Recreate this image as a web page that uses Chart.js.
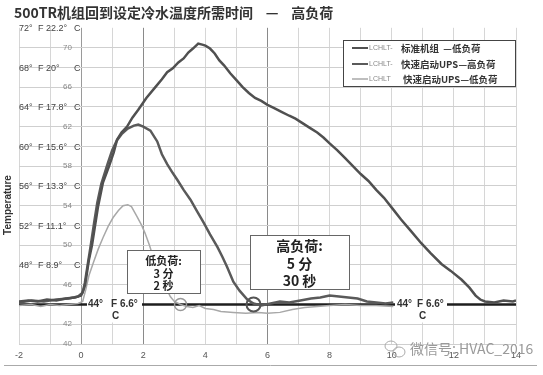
<!DOCTYPE html>
<html><head><meta charset="utf-8">
<script src="https://cdn.jsdelivr.net/npm/chart.js@4/dist/chart.umd.min.js"></script>
<style>html,body{margin:0;padding:0;background:#fff}#wrap{width:543px;height:375px}</style>
</head><body><div id="wrap"><canvas id="c" width="543" height="375"></canvas></div>
<script>
const titleText = '500TR机组回到设定冷水温度所需时间    —    高负荷';
const seriesLabels = ['标准机组  —低负荷', '快速启动UPS—高负荷', '快速启动UPS—低负荷'];
const seriesPrefix = ['LCHLT-', 'LCHLT-', 'LCHLT'];
const yAxisTitle = 'Temperature';

const timeA = [-2,-1.7,-1.4,-1.1,-0.8,-0.5,-0.2,0,0.08,0.13,0.25,0.35,0.45,0.55,0.7,0.9,1.05,1.16,1.3,1.48,1.65,1.84,2.1,2.39,2.6,2.77,2.95,3.13,3.3,3.45,3.6,3.77,3.9,4.0,4.15,4.3,4.45,4.6,4.8,5.0,5.2,5.4,5.6,5.8,6.0,6.2,6.45,6.7,6.9,7.1,7.35,7.6,7.8,8.0,8.25,8.5,8.75,9.0,9.25,9.5,9.75,10.0,10.3,10.6,10.95,11.25,11.6,11.9,12.25,12.5,12.7,12.85,13.0,13.3,13.6,13.9,14.0];
const tempA = [44.3,44.4,44.3,44.5,44.4,44.6,44.7,44.9,45.5,46.0,48.5,50.0,52.0,54.0,56.3,58.0,59.4,60.7,61.4,62.0,62.9,63.7,64.9,66.0,66.8,67.5,67.9,68.5,68.9,69.5,69.9,70.4,70.3,70.2,69.9,69.4,68.7,68.2,67.4,66.7,66.0,65.4,64.9,64.6,64.2,63.9,63.5,63.1,62.8,62.4,61.9,61.4,60.9,60.3,59.6,58.8,58.0,57.2,56.5,55.6,54.8,53.8,52.6,51.5,50.2,49.2,48.1,47.4,46.5,45.7,44.9,44.5,44.3,44.2,44.4,44.3,44.4];

const timeB = [-2,-1.6,-1.2,-0.8,-0.4,-0.1,0.05,0.12,0.22,0.32,0.42,0.52,0.65,0.85,1.0,1.15,1.32,1.5,1.7,1.84,2.0,2.23,2.45,2.6,2.77,2.95,3.1,3.3,3.52,3.72,3.94,4.15,4.39,4.55,4.7,4.9,5.1,5.35,5.55,5.8,6.1,6.4,6.7,7.06,7.4,7.7,8.0,8.3,8.6,8.9,9.2,9.5,9.8,10.05];
const tempB = [44.2,44.4,44.3,44.5,44.6,44.8,45.2,46.2,48.2,50.2,52.3,54.3,56.2,58.2,59.6,60.6,61.3,61.8,62.1,62.2,62.0,61.6,60.5,59.2,58.2,57.3,56.6,55.6,54.6,53.5,52.3,51.1,49.8,48.8,47.8,46.3,45.4,44.5,44.1,43.9,44.1,44.3,44.2,44.4,44.6,44.7,44.9,44.8,44.7,44.6,44.3,44.2,44.1,44.2];

const timeC = [-2,-1.6,-1.3,-1.0,-0.7,-0.4,-0.1,0.05,0.15,0.25,0.39,0.55,0.71,0.87,1.03,1.2,1.35,1.5,1.62,1.8,1.95,2.06,2.2,2.32,2.45,2.6,2.75,2.87,3.0,3.2,3.4,3.6,3.8,4.0,4.26,4.5,4.9,5.3,5.7,6.0,6.4,6.8,7.2,7.6,8.0,8.5,9.0,9.5,10.05];
const tempC = [43.9,44.0,43.8,44.0,43.9,44.0,44.1,44.3,45.5,46.9,48.2,49.6,50.8,51.9,52.8,53.5,54.0,54.1,53.9,52.9,52.0,51.2,50.0,48.8,47.7,46.6,45.6,44.8,44.3,44.0,43.8,43.7,43.9,43.6,43.5,43.3,43.2,43.1,43.2,43.1,43.2,43.5,43.7,43.8,43.9,44.0,43.9,43.9,43.8];

const setpointTime = [-2, 14];
const setpointTemp = [44, 44];
const markerTime = [3.2, 5.55];
const markerTemp = [44, 44];

const fLabelTemps = [72, 68, 64, 60, 56, 52, 48];
const fLabelDeg = ['72°', '68°', '64°', '60°', '56°', '52°', '48°'];
const fLabelF = ['F 22.2°', 'F 20°', 'F 17.8°', 'F 15.6°', 'F 13.3°', 'F 11.1°', 'F 8.9°'];
const numTickTemps = [70, 66, 62, 58, 54, 50, 46, 42, 40];
const setpointLabel = ['44°', 'F 6.6°', 'C'];
const lowBoxLines = ['低负荷:', '3 分', '2 秒'];
const highBoxLines = ['高负荷:', '5 分', '30 秒'];
const watermark = '微信号: HVAC_2016';

const zip = (xs, ys) => xs.map((x, i) => ({x, y: ys[i]}));
const CJK = '"Noto Sans CJK SC", sans-serif';
const LAT = '"Liberation Sans", Arial, sans-serif';
const seriesColors = ['#505050', '#5a5a5a', '#a8a8a8'];

const overlay = {
  id: 'overlay',
  afterDatasetsDraw(chart) {
    const ctx = chart.ctx, xs = chart.scales.x, ys = chart.scales.y;
    ctx.save();
    // setpoint labels with white background
    const drawSet = (x0, x1, xDeg, xF, xC) => {
      const y = ys.getPixelForValue(44);
      ctx.fillStyle = '#fff';
      ctx.fillRect(x0, y - 6, x1 - x0, 24);
      ctx.fillStyle = '#333';
      ctx.font = 'bold 10px ' + LAT;
      ctx.textBaseline = 'middle'; ctx.textAlign = 'left';
      ctx.fillText(setpointLabel[0], xDeg, y);
      ctx.fillText(setpointLabel[1], xF, y);
      ctx.fillText(setpointLabel[2], xC, y + 12);
    };
    drawSet(87, 142, 88, 111, 112);
    drawSet(395, 447, 397, 417, 419);
    // annotation boxes
    const box = (x, y, w, h, lines, size, ys0, gap) => {
      ctx.fillStyle = '#fff'; ctx.fillRect(x, y, w, h);
      ctx.strokeStyle = '#666'; ctx.lineWidth = 1;
      ctx.strokeRect(x + 0.5, y + 0.5, w, h);
      ctx.fillStyle = '#222'; ctx.font = 'bold ' + size + 'px ' + CJK;
      ctx.textAlign = 'center'; ctx.textBaseline = 'middle';
      lines.forEach((t, i) => ctx.fillText(t, x + w / 2, ys0 + i * gap));
    };
    box(127, 250, 73, 43, lowBoxLines, 11, 261, 12.5);
    box(250, 235, 99, 54, highBoxLines, 14, 246, 17.5);
    ctx.restore();
  },
  afterDraw(chart) {
    const ctx = chart.ctx, ys = chart.scales.y;
    ctx.save();
    ctx.textBaseline = 'middle';
    // F / C labels
    ctx.fillStyle = '#444'; ctx.font = '9px ' + LAT; ctx.textAlign = 'left';
    fLabelTemps.forEach((v, i) => {
      const y = ys.getPixelForValue(v) + 1;
      ctx.fillText(fLabelDeg[i], 19, y);
      ctx.fillText(fLabelF[i], 38, y);
      ctx.fillText('C', 74, y);
    });
    ctx.fillStyle = '#888'; ctx.font = '8px ' + LAT; ctx.textAlign = 'right';
    numTickTemps.forEach(v => ctx.fillText(String(v), 72, ys.getPixelForValue(v)));
    // y title
    ctx.save();
    ctx.translate(8, 205); ctx.rotate(-Math.PI / 2);
    ctx.textAlign = 'center'; ctx.fillStyle = '#333'; ctx.font = 'bold 10px ' + LAT;
    ctx.fillText(yAxisTitle, 0, 0);
    ctx.restore();
    // legend
    ctx.fillStyle = '#fff'; ctx.fillRect(343, 40, 173, 47);
    ctx.strokeStyle = '#444'; ctx.lineWidth = 1; ctx.strokeRect(343.5, 40.5, 172, 46);
    const ly = [48, 64, 79];
    seriesLabels.forEach((lab, i) => {
      ctx.strokeStyle = seriesColors[i]; ctx.lineWidth = i < 2 ? 2 : 1.5;
      ctx.beginPath(); ctx.moveTo(352, ly[i]); ctx.lineTo(368, ly[i]); ctx.stroke();
      ctx.fillStyle = '#888'; ctx.font = '7px ' + LAT; ctx.textAlign = 'left';
      ctx.fillText(seriesPrefix[i], 369, ly[i]);
      ctx.fillStyle = '#333'; ctx.font = 'bold 9.5px ' + CJK;
      ctx.fillText(lab, i === 2 ? 403 : 401, ly[i]);
    });
    // watermark
    ctx.fillStyle = '#9a9a9a'; ctx.font = '14px ' + CJK; ctx.textAlign = 'left';
    ctx.fillText(watermark, 410, 349);
    ctx.strokeStyle = '#aaa'; ctx.lineWidth = 1;
    ctx.beginPath(); ctx.ellipse(391, 346, 6, 5, 0, 0, Math.PI * 2); ctx.stroke();
    ctx.beginPath(); ctx.ellipse(399, 352, 6, 5, 0, 0, Math.PI * 2); ctx.stroke();
    // bottom edge line
    ctx.strokeStyle = '#aaa';
    ctx.beginPath(); ctx.moveTo(4, 365.5); ctx.lineTo(537, 365.5); ctx.stroke();
    ctx.restore();
  }
};

new Chart(document.getElementById('c'), {
  type: 'line',
  data: {
    datasets: [
      {label: 'markers', data: zip(markerTime, markerTemp), showLine: false,
       pointRadius: [6, 7], pointBorderWidth: [1.5, 2], pointBorderColor: ['#999', '#555'],
       pointBackgroundColor: 'rgba(0,0,0,0)', order: -1},
      {label: seriesLabels[0], data: zip(timeA, tempA), borderColor: seriesColors[0], borderWidth: 2.5, pointRadius: 0, order: 1},
      {label: seriesLabels[1], data: zip(timeB, tempB), borderColor: seriesColors[1], borderWidth: 2.5, pointRadius: 0, order: 2},
      {label: seriesLabels[2], data: zip(timeC, tempC), borderColor: seriesColors[2], borderWidth: 1.5, pointRadius: 0, order: 3},
      {label: 'setpoint', data: zip(setpointTime, setpointTemp), borderColor: '#1e1e1e', borderWidth: 2.5, pointRadius: 0, order: 10}
    ]
  },
  options: {
    responsive: false, animation: false, devicePixelRatio: 1,
    layout: {padding: {left: 14, right: 27, top: 0, bottom: 0}},
    plugins: {
      legend: {display: false}, tooltip: {enabled: false},
      title: {display: true, text: titleText, align: 'start', color: '#333',
        font: {family: CJK, size: 14, weight: 'bold'}, padding: {top: 4, bottom: 7}}
    },
    scales: {
      x: {type: 'linear', min: -2, max: 14,
        ticks: {stepSize: 1, autoSkip: false, maxRotation: 0, padding: 6, color: '#555',
          font: {family: LAT, size: 9}, callback: v => (v % 2 === 0 ? String(v) : '')},
        grid: {drawTicks: false, lineWidth: 1,
          color: c => { const v = c.tick && c.tick.value; return v === 0 ? '#9a9a9a' : (v === 2 || v === 6) ? '#8a8a8a' : '#d6d6d6'; }},
        border: {display: false},
        afterFit: s => { s.height = 31; }
      },
      y: {type: 'linear', min: 40, max: 72,
        ticks: {stepSize: 2, display: false},
        grid: {drawTicks: false, lineWidth: 1,
          color: c => (c.tick && c.tick.value === 72 ? 'rgba(0,0,0,0)' : '#cfcfcf')},
        border: {display: false},
        afterFit: s => { s.width = 5; }
      }
    }
  },
  plugins: [overlay]
});
</script></body></html>
